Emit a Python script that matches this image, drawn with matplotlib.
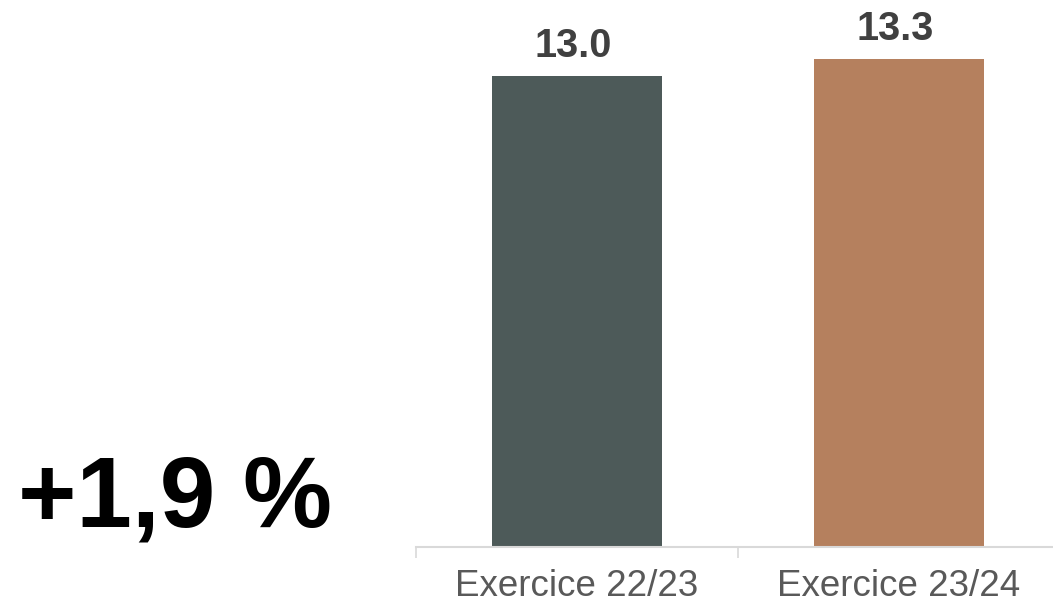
import matplotlib.pyplot as plt

periods = ["Exercice 22/23", "Exercice 23/24"]
values = [13.0, 13.3]
bar_colors = ["#4d5a59", "#b5805e"]
growth_label = "+1,9 %"

plt.rcParams['font.family'] = ['Liberation Sans', 'DejaVu Sans']

fig = plt.figure(figsize=(10.53, 6.06), dpi=100)
ax = fig.add_axes([416 / 1053, 59 / 606, 644 / 1053, 547 / 606])

x = range(len(periods))
bars = ax.bar(x, values, width=0.53, color=bar_colors, zorder=2)

ax.set_xlim(-0.5, 1.5)
ax.set_ylim(4.69, 14.34)

# value labels above each bar
for b, v in zip(bars, values):
    ax.annotate(f"{v:.1f}", (b.get_x() + b.get_width() / 2, v),
                xytext=(-3, 13.7), textcoords="offset points",
                ha="center", va="baseline", fontsize=28.5, fontweight="bold",
                color="#404040")

# category boundaries get the small tick marks
ax.set_xticks([-0.5, 0.5, 1.5])
ax.set_xticklabels([])
ax.tick_params(axis="x", length=8, width=1.2, color="#d9d9d9")
ax.set_xticks(list(x), minor=True)
ax.set_xticklabels(periods, minor=True, fontsize=26.5, color="#595959")
ax.tick_params(axis="x", which="minor", length=0, pad=16)

ax.set_yticks([])
for s in ["top", "right", "left"]:
    ax.spines[s].set_visible(False)
ax.spines["bottom"].set_color("#d9d9d9")
ax.spines["bottom"].set_linewidth(1.5)

fig.text(18 / 1053, 1 - 527 / 606, growth_label, fontsize=72, fontweight="bold",
         color="black", ha="left", va="baseline")

fig.savefig("out.png", dpi=100)
